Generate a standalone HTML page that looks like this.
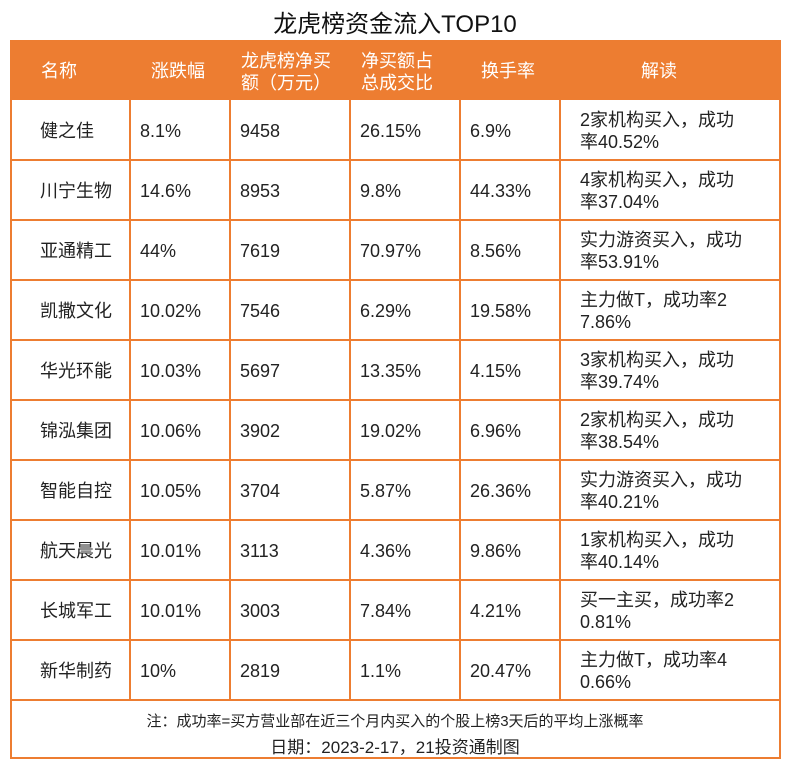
<!DOCTYPE html>
<html><head><meta charset="utf-8"><style>
body{margin:0;width:790px;height:770px;background:#fff;position:relative;font-family:"Liberation Sans","Noto Sans CJK SC",sans-serif;color:#222;}
.t{position:absolute;white-space:nowrap;}
.title{left:0;width:790px;top:4px;text-align:center;font-size:24px;color:#111;}
.box{position:absolute;left:10px;top:40px;width:767px;height:717px;border:2px solid #ED7D31;border-top:none;}
.hdr{position:absolute;left:10px;top:40px;width:771px;height:60px;background:#ED7D31;}
.h{color:#fff;font-size:18px;line-height:22px;}
.c{font-size:18px;line-height:22px;}
.vl{position:absolute;width:2px;background:#ED7D31;top:100px;height:600px;}
.hl{position:absolute;left:10px;width:770px;height:2px;background:#ED7D31;}
.f{font-size:15px;}
</style></head><body>
<div class="t title">龙虎榜资金流入TOP10</div>
<div class="box"></div>
<div class="hdr"></div>
<div class="t h" style="left:41px;top:60px">名称</div>
<div class="t h" style="left:151px;top:60px">涨跌幅</div>
<div class="t h" style="left:241px;top:50px">龙虎榜净买<br>额（万元）</div>
<div class="t h" style="left:361px;top:50px">净买额占<br>总成交比</div>
<div class="t h" style="left:481px;top:60px">换手率</div>
<div class="t h" style="left:641px;top:60px">解读</div>
<div class="vl" style="left:129px"></div>
<div class="vl" style="left:229px"></div>
<div class="vl" style="left:349px"></div>
<div class="vl" style="left:459px"></div>
<div class="vl" style="left:559px"></div>
<div class="hl" style="top:159px"></div>
<div class="hl" style="top:219px"></div>
<div class="hl" style="top:279px"></div>
<div class="hl" style="top:339px"></div>
<div class="hl" style="top:399px"></div>
<div class="hl" style="top:459px"></div>
<div class="hl" style="top:519px"></div>
<div class="hl" style="top:579px"></div>
<div class="hl" style="top:639px"></div>
<div class="hl" style="top:699px"></div>
<div id="rows"></div>
<div class="t f" style="left:0;width:790px;text-align:center;top:710px">注：成功率=买方营业部在近三个月内买入的个股上榜3天后的平均上涨概率</div>
<div class="t" style="left:0;width:790px;text-align:center;top:733px;font-size:17px">日期：2023-2-17，21投资通制图</div>
<script>
var d=[["健之佳","8.1%","9458","26.15%","6.9%","2家机构买入，成功","率40.52%"],
["川宁生物","14.6%","8953","9.8%","44.33%","4家机构买入，成功","率37.04%"],
["亚通精工","44%","7619","70.97%","8.56%","实力游资买入，成功","率53.91%"],
["凯撒文化","10.02%","7546","6.29%","19.58%","主力做T，成功率2","7.86%"],
["华光环能","10.03%","5697","13.35%","4.15%","3家机构买入，成功","率39.74%"],
["锦泓集团","10.06%","3902","19.02%","6.96%","2家机构买入，成功","率38.54%"],
["智能自控","10.05%","3704","5.87%","26.36%","实力游资买入，成功","率40.21%"],
["航天晨光","10.01%","3113","4.36%","9.86%","1家机构买入，成功","率40.14%"],
["长城军工","10.01%","3003","7.84%","4.21%","买一主买，成功率2","0.81%"],
["新华制药","10%","2819","1.1%","20.47%","主力做T，成功率4","0.66%"]];
var xs=[40,140,240,360,470],h="";
d.forEach(function(r,i){var y=100+i*60;
for(var j=0;j<5;j++)h+='<div class="t c" style="left:'+xs[j]+'px;top:'+(y+20)+'px">'+r[j]+'</div>';
h+='<div class="t c" style="left:580px;top:'+(y+9)+'px">'+r[5]+'<br>'+r[6]+'</div>';});
document.getElementById('rows').innerHTML=h;
</script>
</body></html>
